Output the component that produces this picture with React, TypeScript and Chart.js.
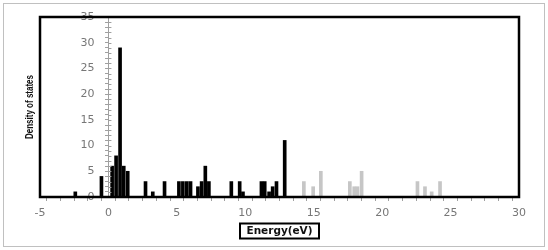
import React, { useEffect, useRef } from "react";
import { Chart, registerables } from "chart.js";

Chart.register(...registerables);

const xTickValues = [-5, 0, 5, 10, 15, 20, 25, 30];
const yTickValues = [0, 5, 10, 15, 20, 25, 30, 35];

const occupiedEnergies = [-2.42, -0.51, 0.27, 0.56, 0.85, 1.12, 1.41, 2.71, 3.24, 4.1, 5.15, 5.44, 5.73, 6.0, 6.54, 6.81, 7.08, 7.34, 8.98, 9.59, 9.83, 11.18, 11.42, 11.74, 12.0, 12.28, 12.88];
const occupiedDos = [1, 4, 6, 8, 29, 6, 5, 3, 1, 3, 3, 3, 3, 3, 2, 3, 6, 3, 3, 3, 1, 3, 3, 1, 2, 3, 11];

const virtualEnergies = [14.28, 14.96, 15.52, 17.64, 17.96, 18.2, 18.5, 22.58, 23.13, 23.62, 24.23];
const virtualDos = [3, 2, 5, 3, 2, 2, 5, 3, 2, 1, 3];

const xTitle = "Energy(eV)";
const yTitle = "Density of states";

const decorPlugin = {
  id: "decor",
  afterDraw(chart: any) {
    const ctx = chart.ctx;
    const ca = chart.chartArea;
    const xs = chart.scales.x;
    const ys = chart.scales.y;
    ctx.save();
    const x0 = xs.getPixelForValue(0);
    // right-side stubs of the y ticks (ticks cross the axis)
    ctx.strokeStyle = "#a0a0a0";
    ctx.lineWidth = 1;
    for (let v = ys.min; v <= ys.max; v += 1) {
      const py = Math.round(ys.getPixelForValue(v)) + 0.5;
      ctx.beginPath();
      ctx.moveTo(x0, py);
      ctx.lineTo(x0 + 3, py);
      ctx.stroke();
    }
    // y tick labels, left of the axis that crosses at x = 0
    ctx.fillStyle = "#777";
    ctx.font = "11px 'DejaVu Sans'";
    ctx.textAlign = "right";
    ctx.textBaseline = "middle";
    for (const v of yTickValues) {
      ctx.fillText(String(v), x0 - 14, ys.getPixelForValue(v));
    }
    // plot frame
    ctx.strokeStyle = "#000";
    ctx.lineWidth = 2.5;
    ctx.strokeRect(ca.left, ca.top, ca.right - ca.left, ca.bottom - ca.top);
    // outer border
    ctx.strokeStyle = "#c0c0c0";
    ctx.lineWidth = 1;
    ctx.strokeRect(3.5, 3.5, 541, 243);
    // y title
    ctx.fillStyle = "#111";
    ctx.font = "bold 11px 'Liberation Sans'";
    ctx.textAlign = "center";
    ctx.textBaseline = "middle";
    const yw = ctx.measureText(yTitle).width;
    ctx.save();
    ctx.translate(30, (ca.top + ca.bottom) / 2);
    ctx.rotate(-Math.PI / 2);
    ctx.scale(64 / yw, 1);
    ctx.fillText(yTitle, 0, 0);
    ctx.restore();
    // x title in a box
    const cx = (ca.left + ca.right) / 2;
    const cy = 231;
    ctx.font = "bold 10px 'DejaVu Sans'";
    const xw = ctx.measureText(xTitle).width;
    ctx.save();
    ctx.translate(cx, cy);
    ctx.scale(66 / xw, 1);
    ctx.fillText(xTitle, 0, 0);
    ctx.restore();
    ctx.strokeStyle = "#000";
    ctx.lineWidth = 2;
    ctx.strokeRect(cx - 39.5, 223.5, 79, 15);
    ctx.restore();
  },
};

export default function App() {
  const canvasRef = useRef<HTMLCanvasElement | null>(null);

  useEffect(() => {
    const canvas = canvasRef.current;
    if (!canvas) return;
    const chart = new Chart(canvas, {
      type: "bar",
      data: {
        datasets: [
          {
            label: "occupied",
            data: occupiedEnergies.map((e, i) => ({ x: e, y: occupiedDos[i] })),
            backgroundColor: "#000000",
            barThickness: 3,
            grouped: false,
          } as any,
          {
            label: "virtual",
            data: virtualEnergies.map((e, i) => ({ x: e, y: virtualDos[i] })),
            backgroundColor: "#c6c6c6",
            barThickness: 3,
            grouped: false,
          } as any,
        ],
      },
      options: {
        animation: false,
        responsive: false,
        devicePixelRatio: 1,
        layout: { padding: { left: 40, right: 29, top: 17, bottom: 22 } },
        plugins: { legend: { display: false }, tooltip: { enabled: false }, title: { display: false } },
        scales: {
          x: {
            type: "linear",
            min: -5,
            max: 30,
            offset: false,
            afterFit: (s: any) => {
              s.height = 31;
            },
            ticks: {
              stepSize: 1,
              autoSkip: false,
              maxRotation: 0,
              padding: 6,
              color: "#777",
              font: { family: "'DejaVu Sans'", size: 11 },
              callback: (v: any) => (xTickValues.includes(Number(v)) ? String(v) : ""),
            },
            grid: { drawOnChartArea: false, color: "#a0a0a0", tickLength: 4 },
            border: { display: true, color: "#000", width: 2 },
          },
          y: {
            type: "linear",
            min: 0,
            max: 35,
            position: { x: 0 } as any,
            ticks: {
              stepSize: 1,
              autoSkip: false,
              display: false,
            },
            grid: { drawOnChartArea: false, color: "#a0a0a0", tickLength: 3 },
            border: { display: true, color: "#a0a0a0", width: 1 },
          },
        },
      },
      plugins: [decorPlugin],
    });
    return () => chart.destroy();
  }, []);

  return (
    <div style={{ position: "absolute", left: 0, top: 0, width: 548, height: 250, background: "#fff" }}>
      <canvas ref={canvasRef} width={548} height={250} style={{ width: 548, height: 250, display: "block" }} />
    </div>
  );
}
